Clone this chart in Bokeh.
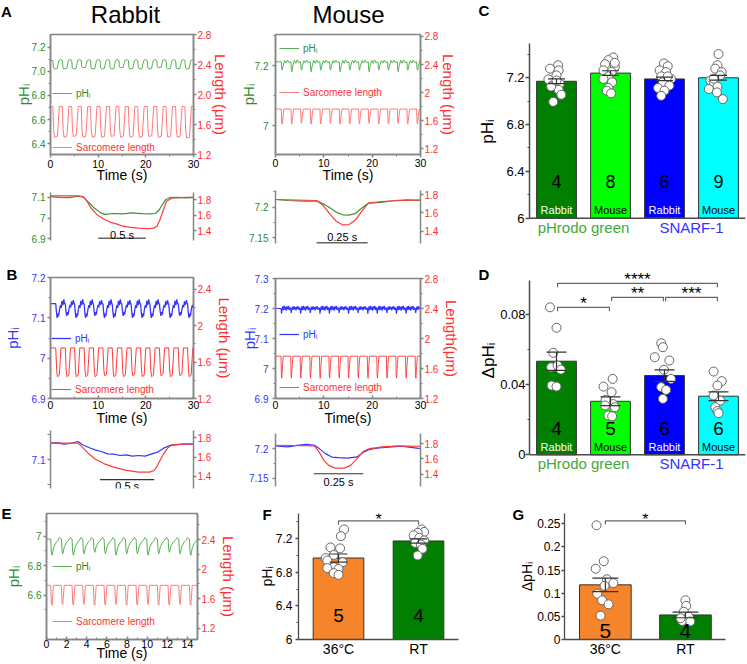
import math
from bokeh.plotting import figure
from bokeh.models import (Range1d, LinearAxis, FixedTicker, Legend, LegendItem, Title, Span,
                          ColumnDataSource, Whisker, TeeHead)
from bokeh.layouts import row, column
from bokeh.embed import file_html
from bokeh.resources import INLINE
from bokeh.core.properties import value

FONT = "Liberation Sans"

# ====================== DATA ======================
# --- A, rabbit (pHrodo green), 30 s record: beat onsets, per-beat minima, one-beat shape
ra_beats = [0.5, 2.5, 4.45, 6.45, 8.4, 10.4, 12.4, 14.35, 16.35, 18.3, 20.3, 22.3, 24.25, 26.25, 28.2]
ra_ph_rest = 7.09
ra_ph_min = [7.02, 7.02, 7.02, 7.03, 7.02, 7.02, 7.02, 7.03, 7.02, 7.02, 7.02, 7.03, 7.02, 7.02, 7.02]
ra_ph_offs = [0, 0.12, 0.3, 0.9, 1.1, 1.25, 1.6]
ra_ph_shape = [0, 0.9, 1.0, 0.95, 0.4, 0, -0.1]
ra_len_rest = 1.84
ra_len_min = [1.43, 1.43, 1.44, 1.43, 1.43, 1.43, 1.44, 1.43, 1.43, 1.43, 1.44, 1.43, 1.43, 1.43, 1.42]
ra_len_offs = [0, 0.15, 0.35, 0.95, 1.15, 1.35]
ra_len_shape = [0, 0.75, 1.0, 0.97, 0.5, 0]
# --- A, rabbit averaged transient
ra_avg_t_ph = [0, 0.099, 0.197, 0.296, 0.345, 0.401, 0.46, 0.526, 0.576, 0.658, 0.757, 0.855, 0.954, 1.053,
               1.102, 1.141, 1.174, 1.207, 1.25, 1.332, 1.414, 1.5]
ra_avg_ph = [7.103, 7.100, 7.098, 7.105, 7.100, 7.075, 7.048, 7.025, 7.018, 7.022, 7.020, 7.025, 7.021, 7.020,
             7.022, 7.040, 7.065, 7.088, 7.098, 7.100, 7.097, 7.098]
ra_avg_t_len = [0, 0.296, 0.345, 0.378, 0.421, 0.493, 0.559, 0.625, 0.707, 0.757, 0.839, 0.921, 1.036, 1.085,
                1.118, 1.151, 1.184, 1.217, 1.283, 1.5]
ra_avg_len = [1.85, 1.85, 1.84, 1.79, 1.70, 1.60, 1.55, 1.51, 1.48, 1.456, 1.44, 1.43, 1.425, 1.43,
              1.46, 1.55, 1.67, 1.78, 1.826, 1.835]

# --- A, mouse (pHrodo green)
ma_beats = [1.2, 3.2, 5.2, 7.2, 9.2, 11.2, 13.2, 15.2, 17.2, 19.2, 21.2, 23.2, 25.2, 27.2, 29.2]
ma_ph_rest = 7.213
ma_ph_min = [7.185, 7.18, 7.185, 7.18, 7.185, 7.185, 7.18, 7.185, 7.185, 7.18, 7.185, 7.185, 7.18, 7.185, 7.185]
ma_ph_offs = [0, 0.08, 0.18, 0.4, 0.7, 1.0, 1.3, 1.6]
ma_ph_shape = [0, 0.8, 1.0, 0.4, -0.15, 0.15, -0.2, 0.1]
ma_len_rest = 1.765
ma_len_min = [1.55, 1.55, 1.56, 1.55, 1.55, 1.56, 1.55, 1.55, 1.55, 1.56, 1.55, 1.55, 1.56, 1.55, 1.55]
ma_len_offs = [0, 0.08, 0.18, 0.35, 0.55]
ma_len_shape = [0, 0.85, 1.0, 0.5, 0]
ma_avg_t_ph = [0, 0.059, 0.138, 0.202, 0.234, 0.266, 0.297, 0.329, 0.361, 0.393, 0.425, 0.456, 0.52, 0.584,
               0.647, 0.708]
ma_avg_ph = [7.2126, 7.211, 7.210, 7.210, 7.2055, 7.199, 7.192, 7.1876, 7.187, 7.190, 7.199, 7.2065, 7.208,
             7.211, 7.212, 7.211]
ma_avg_t_len = [0, 0.202, 0.234, 0.266, 0.297, 0.329, 0.361, 0.393, 0.425, 0.456, 0.52, 0.616, 0.708]
ma_avg_len = [1.748, 1.737, 1.682, 1.591, 1.51, 1.47, 1.473, 1.525, 1.627, 1.708, 1.726, 1.737, 1.745]

# --- B, rabbit (SNARF-1)
rb_beats = [1.1, 3.1, 5.05, 7.05, 9.0, 11.0, 12.95, 14.95, 16.9, 18.9, 20.85, 22.85, 24.8, 26.8, 28.75]
rb_ph_rest = 7.135
rb_ph_min = [7.10, 7.105, 7.10, 7.10, 7.105, 7.10, 7.10, 7.105, 7.10, 7.10, 7.10, 7.105, 7.10, 7.105, 7.10]
rb_ph_offs = [0, 0.15, 0.3, 0.45, 0.6, 0.8, 1.0, 1.15, 1.3, 1.5, 1.7, 1.85]
rb_ph_shape = [0, 0.6, 1.0, 0.7, 0.9, 0.4, 0.1, 0.3, -0.2, 0.1, -0.3, 0.0]
rb_len_rest = 1.756
rb_len_min = [1.44, 1.44, 1.44, 1.44, 1.44, 1.45, 1.44, 1.44, 1.45, 1.44, 1.44, 1.45, 1.44, 1.45, 1.44]
rb_len_offs = [0, 0.2, 0.35, 0.75, 0.95, 1.1]
rb_len_shape = [0, 0.8, 1.0, 0.95, 0.4, 0]
rb_avg_t_ph = [0, 0.066, 0.124, 0.181, 0.253, 0.296, 0.353, 0.411, 0.468, 0.526, 0.583, 0.641, 0.698, 0.756,
               0.813, 0.871, 0.928, 0.986, 1.043, 1.101, 1.158, 1.216, 1.319]
rb_avg_ph = [7.1321, 7.1328, 7.1302, 7.1315, 7.1354, 7.1289, 7.1236, 7.119, 7.1157, 7.1111, 7.1105, 7.1079,
             7.1092, 7.1066, 7.1079, 7.1066, 7.1105, 7.1144, 7.1223, 7.1276, 7.1289, 7.1302, 7.1302]
rb_avg_t_len = [0, 0.253, 0.296, 0.353, 0.411, 0.497, 0.583, 0.698, 0.813, 0.914, 0.957, 0.986, 1.043, 1.086,
                1.129, 1.319]
rb_avg_len = [1.744, 1.744, 1.70, 1.633, 1.58, 1.529, 1.494, 1.46, 1.442, 1.442, 1.46, 1.511, 1.633, 1.70,
              1.73, 1.737]

# --- B, mouse (SNARF-1)
mb_beats = [1.15, 3.15, 5.1, 7.1, 9.1, 11.05, 13.05, 15.0, 17.0, 19.0, 20.95, 22.95, 24.9, 26.9, 28.9]
mb_ph_rest = 7.20
mb_ph_min = [7.183, 7.185, 7.183, 7.185, 7.183, 7.183, 7.185, 7.183, 7.185, 7.183, 7.183, 7.185, 7.183, 7.183, 7.185]
mb_ph_offs = [0, 0.1, 0.2, 0.35, 0.5, 0.65, 0.8, 0.95, 1.1, 1.25, 1.4, 1.55, 1.7, 1.85]
mb_ph_shape = [0, 1.0, 0.3, -0.4, 0.3, -0.5, 0.2, -0.3, 0.4, -0.4, 0.1, -0.5, 0.3, -0.2]
mb_len_rest = 1.765
mb_len_min = [1.47, 1.47, 1.47, 1.47, 1.47, 1.47, 1.47, 1.47, 1.47, 1.47, 1.47, 1.47, 1.47, 1.47, 1.47]
mb_len_offs = [0, 0.06, 0.15, 0.3, 0.45]
mb_len_shape = [0, 0.8, 1.0, 0.45, 0]
mb_avg_t_ph = [0, 0.061, 0.108, 0.156, 0.196, 0.22, 0.252, 0.284, 0.315, 0.363, 0.411, 0.443, 0.475, 0.522,
               0.586, 0.634, 0.682, 0.733]
mb_avg_ph = [7.2044, 7.203, 7.2056, 7.207, 7.2056, 7.2, 7.1915, 7.1857, 7.1846, 7.184, 7.186, 7.194, 7.1985,
             7.201, 7.203, 7.204, 7.202, 7.2]
mb_avg_t_len = [0, 0.196, 0.22, 0.244, 0.268, 0.3, 0.347, 0.379, 0.411, 0.443, 0.475, 0.538, 0.618, 0.733]
mb_avg_len = [1.778, 1.769, 1.69, 1.582, 1.517, 1.482, 1.482, 1.517, 1.605, 1.70, 1.735, 1.756, 1.769, 1.765]

# --- E, rabbit at 36 C, 15 s record
e_beats = [0.42, 1.48, 2.54, 3.6, 4.66, 5.72, 6.78, 7.84, 8.9, 9.96, 11.02, 12.08, 13.14, 14.2]
e_ph_rest = 6.98
e_ph_min = [6.87, 6.88, 6.87, 6.88, 6.89, 6.88, 6.87, 6.88, 6.88, 6.87, 6.88, 6.89, 6.88, 6.87]
e_ph_offs = [0, 0.06, 0.14, 0.3, 0.5, 0.7, 0.9]
e_ph_shape = [0, 0.8, 1.0, 0.5, 0.25, 0.1, -0.1]
e_len_rest = 1.78
e_len_min = [1.51, 1.52, 1.51, 1.52, 1.51, 1.51, 1.52, 1.51, 1.51, 1.52, 1.51, 1.51, 1.52, 1.51]
e_len_offs = [0, 0.06, 0.14, 0.28]
e_len_shape = [0, 0.9, 1.0, 0]

# --- C: resting pHi
c_x = [1, 2, 3, 4]
c_mean = [7.17, 7.24, 7.19, 7.20]
c_sem = [0.02, 0.02, 0.015, 0.02]
c_n = ["4", "8", "6", "9"]
c_species = ["Rabbit", "Mouse", "Rabbit", "Mouse"]
c_colors = ["#007F00", "#00FF00", "#0000FF", "#00FFFF"]
c_pts = [[7.307, 7.278, 7.264, 7.186, 7.22, 7.133, 7.148, 7.096, 7.055, 6.994, 7.125, 7.177],
         [7.374, 7.351, 7.316, 7.293, 7.264, 7.249, 7.212, 7.191, 7.162, 7.113, 7.09, 7.067, 7.328],
         [7.322, 7.299, 7.264, 7.249, 7.212, 7.191, 7.162, 7.133, 7.113, 7.09, 7.046, 7.212],
         [7.403, 7.307, 7.278, 7.249, 7.177, 7.22, 7.162, 7.125, 7.104, 7.075, 7.017, 7.191]]
c_jit = [[0.03, -0.12, 0.04, -0.15, 0, -0.08, 0.06, 0.04, 0.09, -0.06, -0.1, 0],
         [0.05, -0.04, -0.1, 0.08, -0.13, 0.02, -0.04, -0.13, 0.03, -0.04, -0.07, 0.01, 0.08],
         [-0.01, 0.06, -0.09, 0.03, -0.06, 0.12, -0.03, 0.09, -0.12, 0, -0.06, 0.06],
         [0, -0.02, -0.06, 0.06, -0.15, 0.03, -0.09, -0.02, -0.18, -0.03, 0.08, -0.09]]
dye_x = [1.5, 3.5]
dyes = ["pHrodo green", "SNARF-1"]

# --- D: delta pHi
d_mean = [0.0535, 0.0306, 0.0453, 0.0335]
d_sem = [0.0052, 0.0025, 0.0033, 0.0025]
d_n = ["4", "5", "6", "6"]
d_pts = [[0.0843, 0.0726, 0.0583, 0.050, 0.051, 0.0487, 0.0396, 0.039],
         [0.0434, 0.039, 0.0358, 0.0314, 0.029, 0.0282, 0.0272, 0.0225, 0.022],
         [0.0638, 0.0615, 0.0558, 0.0539, 0.0486, 0.0434, 0.0387, 0.0371, 0.032],
         [0.0476, 0.0421, 0.0396, 0.0339, 0.031, 0.0272, 0.025, 0.0238]]
d_jit = [[-0.12, 0, -0.06, -0.1, 0.02, 0.08, -0.09, 0],
         [0.04, -0.13, 0.02, -0.09, 0.05, -0.1, 0.08, -0.04, 0.03],
         [-0.06, -0.03, -0.18, 0.09, -0.01, 0.12, -0.06, 0.03, -0.03],
         [-0.09, 0.06, -0.02, -0.09, 0.03, -0.06, -0.02, 0]]
d_sig = [(1, 2, "*", 0.0843), (2, 3, "**", 0.0900), (3, 4, "***", 0.0900), (1, 4, "****", 0.0980)]

# --- F / G: 36 C vs RT
fg_x = [1, 2]
fg_cats = ["36°C", "RT"]
fg_colors = ["#F5842A", "#007F00"]
fg_n = ["5", "4"]
f_mean = [6.97, 7.173]
f_sem = [0.048, 0.025]
f_pts = [[7.31, 7.23, 7.096, 7.085, 7.006, 6.97, 6.94, 6.92, 6.86, 6.85, 6.84, 6.79, 6.77],
         [7.31, 7.28, 7.27, 7.24, 7.21, 7.18, 7.15, 7.13, 7.08, 7.0]]
f_jit = [[0.07, 0.03, -0.1, 0.02, -0.06, -0.16, -0.14, 0.05, -0.06, -0.14, 0, -0.06, 0],
         [0.04, 0.07, -0.01, -0.06, 0.01, 0.07, -0.04, 0.03, 0.05, -0.01]]
f_sig = (1, 2, "*", 7.412)
g_mean = [0.118, 0.053]
g_sem = [0.0145, 0.006]
g_pts = [[0.2465, 0.169, 0.1528, 0.130, 0.1217, 0.1158, 0.0985, 0.0845, 0.0759, 0.0514],
         [0.0845, 0.0727, 0.0599, 0.0493, 0.0401, 0.0388, 0.046]]
g_jit = [[-0.11, -0.02, -0.12, 0.02, 0.1, -0.01, -0.1, -0.04, 0.04, -0.06],
         [0, 0.01, -0.02, 0.04, -0.04, 0.06, -0.06]]
g_sig = (1, 2, "*", 0.2562)

# header / side texts
hdr_species = ["Rabbit", "Mouse"]

# ====================== STYLE ======================
AXG = "#858585"
AXD = "#4a4a4a"
GREEN_T = "#2E8B2E"
RED_T = "#FF2F2F"
BLUE_T = "#3333FF"
GREEN_L = "#55B055"
PINK_L = "#FF7A7A"
RED_L = "#FF3A3A"
BLUE_L = "#3535FF"
GREEN_AVG = "#3A953A"
DYE_COLORS = ["#3DAA3D", BLUE_T]


def tile(beats, offs, shape, rest, mins, t_end):
    t, v = [0.0], [rest]
    for b, m in zip(beats, mins):
        for o, s in zip(offs, shape):
            if 0 <= b + o < t_end:
                t.append(b + o)
                v.append(rest + (m - rest) * s)
    t.append(t_end)
    v.append(rest)
    return t, v


class Strip:
    """A text-only figure whose frame fills its canvas; positions given in page pixels."""

    def __init__(self, ox, oy, w, h):
        self.ox, self.oy, self.h = ox, oy, h
        self.p = figure(width=w, height=h, x_range=Range1d(ox, ox + w), y_range=Range1d(0, h),
                        x_axis_type=None, y_axis_type=None, output_backend="svg", toolbar_location=None,
                        title_location=None, min_border_left=0, min_border_right=0, min_border_top=0,
                        min_border_bottom=0)
        self.p.outline_line_color = None

    def put(self, xs, ys, texts, size, bold=False, angle=0.0, color="black"):
        self.p.text(x=xs, y=[self.oy + self.h - Y for Y in ys], text=texts, text_font=value(FONT),
                    text_font_size=value(size), text_font_style="bold" if bold else "normal",
                    text_align="center", text_baseline="middle", text_color=color, angle=angle)


class Panel:
    def __init__(self, ox, oy, w, h, L, T, R, B, xr, yr, yr2=None, box=False):
        self.L, self.T, self.R, self.B = L, T, R, B
        self.xr, self.yr = xr, yr
        self.p = figure(width=w, height=h, x_range=Range1d(*xr), y_range=Range1d(*yr),
                        x_axis_type=None, y_axis_type=None, output_backend="svg",
                        toolbar_location=None, title_location=None,
                        min_border_left=int(L - ox), min_border_right=int(ox + w - R),
                        min_border_top=int(T - oy), min_border_bottom=int(oy + h - B))
        if box:
            self.p.outline_line_color = AXG
            self.p.outline_line_width = 1.5
        else:
            self.p.outline_line_color = None
        if yr2 is not None:
            self.p.extra_y_ranges = {"r": Range1d(*yr2)}

    def ax(self, side, ticks, labels=None, minor=(), color="black", size="10px", line=AXG, lw=1.5,
           tout=3, tin=0, standoff=2, rname=None, title=None, tsize="15px", tcolor=None, tstand=0,
           bounds=None, mlen=2):
        a = LinearAxis(ticker=FixedTicker(ticks=[float(t) for t in ticks],
                                          minor_ticks=[float(t) for t in minor]))
        if rname:
            a.y_range_name = rname
        if bounds is not None:
            a.bounds = bounds
        a.axis_line_color = line
        a.axis_line_width = lw
        a.major_tick_line_color = line
        a.major_tick_line_width = lw
        a.minor_tick_line_color = line
        a.minor_tick_line_width = 1
        a.major_tick_out = tout
        a.major_tick_in = tin
        a.minor_tick_out = mlen if tout else 0
        a.minor_tick_in = 0 if tout else mlen
        a.major_label_text_font = FONT
        a.major_label_text_font_size = size
        a.major_label_text_color = color
        a.major_label_standoff = standoff
        if labels is not None:
            a.major_label_overrides = {float(t): s for t, s in zip(ticks, labels)}
        if title is not None:
            a.axis_label = title
            a.axis_label_text_font = FONT
            a.axis_label_text_font_size = tsize
            a.axis_label_text_font_style = "normal"
            a.axis_label_text_color = tcolor or color
            a.axis_label_standoff = tstand
        self.p.add_layout(a, side)
        return a

    def leg(self, r, text, gx, cy, color):
        lg = Legend(items=[LegendItem(label=text, renderers=[r])],
                    location=(gx - self.L, self.B - cy - 6), glyph_width=20, glyph_height=12,
                    label_height=12, label_standoff=4, padding=0, margin=0, spacing=0,
                    border_line_color=None, background_fill_alpha=0, label_text_font=FONT,
                    label_text_font_size="10px", label_text_color=color)
        self.p.add_layout(lg)

    def letter(self, text, Xleft, standoff):
        self.p.add_layout(Title(text=text, align="left", offset=Xleft - self.L, standoff=standoff,
                                vertical_align="bottom", text_font=FONT, text_font_size="15px",
                                text_font_style="bold", text_color="black"), "above")


def trace_axes(P, xt, xminor, lt, ll, lminor, lcol, rt, rl, rminor, lstand, btout, bstand,
               ltitle_st, rtitle, rtitle_st, xtitle, xtitle_st):
    P.ax("left", lt, ll, lminor, color=lcol, standoff=lstand, title="pHᵢ", tstand=ltitle_st)
    P.ax("right", rt, rl, rminor, color=RED_T, rname="r", standoff=1, title=rtitle, tstand=rtitle_st)
    P.ax("below", xt, [str(int(t)) for t in xt], xminor, color="black", size="10.5px", standoff=bstand,
         tout=btout, tin=0 if btout else 3, title=xtitle, tsize="14px", tstand=xtitle_st)


# ====================== HEADER STRIP (A / Rabbit / Mouse) ======================
hdr = Strip(0, 0, 476, 26)
hdr.put([125, 348], [13.5, 13.5], hdr_species, "24px")
hdr.put([6], [11], ["A"], "15px", bold=True)

# ====================== PANEL A ======================
fa1 = Panel(0, 26, 236, 159, 48, 34, 198, 155, (0, 30), (6.31, 7.305), (1.2, 2.8), box=True)
trace_axes(fa1, [0, 10, 20, 30], [5, 15, 25], [6.4, 6.6, 6.8, 7.0, 7.2], ["6.4", "6.6", "6.8", "7.0", "7.2"],
           [6.5, 6.7, 6.9, 7.1], GREEN_T, [1.2, 1.6, 2.0, 2.4, 2.8], ["1.2", "1.6", "2.0", "2.4", "2.8"],
           [1.4, 1.8, 2.2, 2.6], lstand=2, btout=3, bstand=2, ltitle_st=-3,
           rtitle="Length (μm)", rtitle_st=-2, xtitle="Time (s)", xtitle_st=-4)
t, v = tile(ra_beats, ra_ph_offs, ra_ph_shape, ra_ph_rest, ra_ph_min, 30)
r1 = fa1.p.line(t, v, line_color=GREEN_L, line_width=1)
t, v = tile(ra_beats, ra_len_offs, ra_len_shape, ra_len_rest, ra_len_min, 30)
r2 = fa1.p.line(t, v, line_color=PINK_L, line_width=1, y_range_name="r")
fa1.leg(r1, "pHᵢ", 50, 94, GREEN_T)
fa1.leg(r2, "Sarcomere length", 50, 148, RED_T)

fa2 = Panel(0, 185, 236, 65, 47, 192, 199, 240, (0, 1.5), (6.892, 7.123), (1.27, 1.895))
fa2.ax("left", [6.9, 7.0, 7.1], ["6.9", "7", "7.1"], color=GREEN_T)
fa2.ax("right", [1.4, 1.6, 1.8], ["1.4", "1.6", "1.8"], color=RED_T, rname="r", standoff=1)
fa2.p.line(ra_avg_t_ph, ra_avg_ph, line_color=GREEN_AVG, line_width=1.2)
fa2.p.line(ra_avg_t_len, ra_avg_len, line_color=RED_L, line_width=1.2, y_range_name="r")
ra_bar_t = [0.5, 1.0]
ra_bar_y = 6.903
fa2.p.line(ra_bar_t, [ra_bar_y] * 2, line_color="#666666", line_width=1.5)
fa2.p.text(x=[sum(ra_bar_t) / 2], y=[6.917], text=["0.5 s"], text_font=value(FONT),
           text_font_size=value("11px"), text_align="center", text_baseline="middle", text_color="black")

# ====================== PANEL B ======================
fb1 = Panel(0, 250, 236, 178, 47, 277, 198, 400, (0, 30), (6.9, 7.2), (1.2, 2.53), box=True)
trace_axes(fb1, [0, 10, 20, 30], [5, 15, 25], [6.9, 7.0, 7.1, 7.2], ["6.9", "7", "7.1", "7.2"],
           [6.95, 7.05, 7.15], BLUE_T, [1.2, 1.6, 2.0, 2.4], ["1.2", "1.6", "2", "2.4"], [1.4, 1.8, 2.2],
           lstand=2, btout=0, bstand=2, ltitle_st=8, rtitle="Length (μm)", rtitle_st=2,
           xtitle="Time (s)", xtitle_st=-2)
t, v = tile(rb_beats, rb_ph_offs, rb_ph_shape, rb_ph_rest, rb_ph_min, 30)
r1 = fb1.p.line(t, v, line_color=BLUE_L, line_width=1.3)
t, v = tile(rb_beats, rb_len_offs, rb_len_shape, rb_len_rest, rb_len_min, 30)
r2 = fb1.p.line(t, v, line_color=RED_L, line_width=1, y_range_name="r")
fb1.leg(r1, "pHᵢ", 48, 340, BLUE_T)
fb1.leg(r2, "Sarcomere length", 48, 391, RED_T)
fb1.letter("B", 3, -10)

fb2 = Panel(0, 428, 236, 67, 47, 430, 199, 488, (0, 1.319), (7.043, 7.157), (1.272, 1.876))
fb2.ax("left", [7.1], ["7.1"], minor=[7.05, 7.15], color=BLUE_T, mlen=3)
fb2.ax("right", [1.4, 1.6, 1.8], ["1.4", "1.6", "1.8"], color=RED_T, rname="r", standoff=1)
fb2.p.line(rb_avg_t_ph, rb_avg_ph, line_color=BLUE_L, line_width=1.2)
fb2.p.line(rb_avg_t_len, rb_avg_len, line_color=RED_L, line_width=1.2, y_range_name="r")
rb_bar_t = [0.457, 0.957]
rb_bar_y = 7.0606
fb2.p.line(rb_bar_t, [rb_bar_y] * 2, line_color="#333333", line_width=1.2)
fb2.p.text(x=[sum(rb_bar_t) / 2], y=[7.048], text=["0.5 s"], text_font=value(FONT),
           text_font_size=value("11px"), text_align="center", text_baseline="middle", text_color="black")

# ====================== MOUSE COLUMN ======================
ma1 = Panel(236, 26, 240, 159, 271, 34, 422, 156, (0, 30), (6.904, 7.304), (1.116, 2.828), box=True)
trace_axes(ma1, [0, 10, 20, 30], [5, 15, 25], [7.0, 7.2], ["7", "7.2"], [6.9, 7.1, 7.3], GREEN_T,
           [1.2, 1.6, 2.0, 2.4, 2.8], ["1.2", "1.6", "2", "2.4", "2.8"], [1.4, 1.8, 2.2, 2.6],
           lstand=4, btout=3, bstand=1, ltitle_st=-5, rtitle="Length (μm)", rtitle_st=-1,
           xtitle="Time (s)", xtitle_st=-3)
t, v = tile(ma_beats, ma_ph_offs, ma_ph_shape, ma_ph_rest, ma_ph_min, 30)
r1 = ma1.p.line(t, v, line_color=GREEN_L, line_width=1)
t, v = tile(ma_beats, ma_len_offs, ma_len_shape, ma_len_rest, ma_len_min, 30)
r2 = ma1.p.line(t, v, line_color=PINK_L, line_width=1, y_range_name="r")
ma1.leg(r1, "pHᵢ", 275, 50, GREEN_T)
ma1.leg(r2, "Sarcomere length", 275, 94, RED_T)

ma2 = Panel(236, 185, 240, 65, 271, 190, 420, 243, (0, 0.711), (7.1407, 7.2273), (1.265, 1.847))
ma2.ax("left", [7.15, 7.2], ["7.15", "7.2"], minor=[7.175, 7.225], color=GREEN_T, standoff=4)
ma2.ax("right", [1.4, 1.6, 1.8], ["1.4", "1.6", "1.8"], color=RED_T, rname="r", standoff=1)
ma2.p.line(ma_avg_t_ph, ma_avg_ph, line_color=GREEN_AVG, line_width=1.2)
ma2.p.line(ma_avg_t_len, ma_avg_len, line_color=RED_L, line_width=1.2, y_range_name="r")
ma_bar_t = [0.2018, 0.4518]
ma_bar_y = 7.1415
ma2.p.line(ma_bar_t, [ma_bar_y] * 2, line_color="#333333", line_width=1.5)
ma2.p.text(x=[sum(ma_bar_t) / 2], y=[7.151], text=["0.25 s"], text_font=value(FONT),
           text_font_size=value("11px"), text_align="center", text_baseline="middle", text_color="black")

mb1 = Panel(236, 250, 240, 178, 271, 278, 422, 400, (0, 30), (6.9, 7.3), (1.2, 2.8), box=True)
trace_axes(mb1, [0, 10, 20, 30], [5, 15, 25], [6.9, 7.0, 7.1, 7.2, 7.3], ["6.9", "7", "7.1", "7.2", "7.3"],
           [6.95, 7.05, 7.15, 7.25], BLUE_T, [1.2, 1.6, 2.0, 2.4, 2.8], ["1.2", "1.6", "2", "2.4", "2.8"],
           [1.4, 1.8, 2.2, 2.6], lstand=4, btout=0, bstand=2, ltitle_st=-6, rtitle="Length(μm)",
           rtitle_st=2, xtitle="Time(s)", xtitle_st=-2)
t, v = tile(mb_beats, mb_ph_offs, mb_ph_shape, mb_ph_rest, mb_ph_min, 30)
r1 = mb1.p.line(t, v, line_color=BLUE_L, line_width=1.2)
t, v = tile(mb_beats, mb_len_offs, mb_len_shape, mb_len_rest, mb_len_min, 30)
r2 = mb1.p.line(t, v, line_color=RED_L, line_width=0.9, y_range_name="r")
mb1.leg(r1, "pHᵢ", 275, 336, BLUE_T)
mb1.leg(r2, "Sarcomere length", 275, 389, RED_T)

mb2 = Panel(236, 428, 240, 67, 271, 433, 424, 486, (0, 0.731), (7.136, 7.2255), (1.244, 1.93))
mb2.ax("left", [7.15, 7.2], ["7.15", "7.2"], minor=[7.175], color=BLUE_T, standoff=4)
mb2.ax("right", [1.4, 1.6, 1.8], ["1.4", "1.6", "1.8"], color=RED_T, rname="r", standoff=1)
mb2.p.line(mb_avg_t_ph, mb_avg_ph, line_color=BLUE_L, line_width=1.2)
mb2.p.line(mb_avg_t_len, mb_avg_len, line_color=RED_L, line_width=1.2, y_range_name="r")
mb_bar_t = [0.1927, 0.4427]
mb_bar_y = 7.1575
mb2.p.line(mb_bar_t, [mb_bar_y] * 2, line_color="#333333", line_width=1.2)
mb2.p.text(x=[sum(mb_bar_t) / 2], y=[7.143], text=["0.25 s"], text_font=value(FONT),
           text_font_size=value("11px"), text_align="center", text_baseline="middle", text_color="black")


# ====================== BAR CHARTS ======================
def bar_panel(P, xs, means, sems, colors, width, base, pts, jit, cap):
    src = ColumnDataSource(dict(x=xs, top=means, color=colors,
                                hi=[m + s for m, s in zip(means, sems)],
                                lo=[m - s for m, s in zip(means, sems)]))
    P.p.vbar(x="x", top="top", bottom=base, width=width, fill_color="color", line_color="#333333",
             line_width=1, source=src)
    px, py = [], []
    for x0, vals, js in zip(xs, pts, jit):
        for vv, jj in zip(vals, js):
            px.append(x0 + jj)
            py.append(vv)
    P.p.scatter(px, py, size=9, fill_color="white", line_color="#666666", line_width=1)
    P.p.add_layout(Whisker(source=src, base="x", upper="hi", lower="lo", line_color="#333333",
                           line_width=1.2, level="overlay",
                           upper_head=TeeHead(size=cap, line_color="#333333", line_width=1.2),
                           lower_head=TeeHead(size=cap, line_color="#333333", line_width=1.2)))


def bracket(P, x1, x2, y, drop, star, ystar, size):
    P.p.multi_line(xs=[[x1, x1, x2, x2]], ys=[[y - drop, y, y, y - drop]], line_color="#666666",
                   line_width=1.2)
    P.p.text(x=[(x1 + x2) / 2], y=[ystar], text=[star], text_font=value(FONT),
             text_font_size=value(f"{size}px"), text_align="center", text_baseline="middle",
             text_color="black")


# --- side strip for C / D (panel letters and y-axis titles)
side = Strip(476, 0, 21, 495)
side.put([483.5, 483.5], [10, 273.5], ["C", "D"], "15px", bold=True)
side.put([486.5, 487.5], [131, 360], ["pHᵢ", "ΔpHᵢ"], "17px", angle=math.pi / 2)

# --- C
fc = Panel(497, 0, 250, 250, 528, 43, 745, 236, (0.5, 4.5), (5.843, 7.493))
fc.ax("left", [6.0, 6.4, 6.8, 7.2], ["6", "6.4", "6.8", "7.2"], minor=[6.2, 6.6, 7.0, 7.4], color="black",
      size="13px", line=AXD, lw=1.5, tout=4, standoff=1, bounds=(6.0, 7.5))
fc.p.add_layout(Span(location=6.0, dimension="width", line_color=AXD, line_width=1.5))
bar_panel(fc, c_x, c_mean, c_sem, c_colors, 0.737, 6.0, c_pts, c_jit, 17)
fc.p.text(x=c_x, y=[6.316] * 4, text=c_n, text_font=value(FONT), text_font_size=value("18px"),
          text_align="center", text_baseline="middle", text_color="black")
fc.p.text(x=c_x, y=[6.066] * 4, text=c_species, text_font=value(FONT), text_font_size=value("11px"),
          text_align="center", text_baseline="middle",
          text_color=["white", "black", "white", "black"])
fc.p.text(x=dye_x, y=[5.923] * 2, text=dyes, text_font=value(FONT), text_font_size=value("15px"),
          text_align="center", text_baseline="middle", text_color=DYE_COLORS)

# --- D
fd = Panel(497, 250, 250, 245, 528, 272, 745, 472, (0.5, 4.5), (-0.0101, 0.1042))
fd.ax("left", [0, 0.04, 0.08], ["0", "0.04", "0.08"], minor=[0.02, 0.06], color="black", size="13px",
      line=AXD, lw=1.5, tout=4, standoff=0, bounds=(0.0, 0.0995))
fd.p.add_layout(Span(location=0.0, dimension="width", line_color=AXD, line_width=1.5))
bar_panel(fd, c_x, d_mean, d_sem, c_colors, 0.737, 0.0, d_pts, d_jit, 20)
fd.p.text(x=c_x, y=[0.0148] * 4, text=d_n, text_font=value(FONT), text_font_size=value("19px"),
          text_align="center", text_baseline="middle", text_color="black")
fd.p.text(x=c_x, y=[0.0043] * 4, text=c_species, text_font=value(FONT), text_font_size=value("11px"),
          text_align="center", text_baseline="middle",
          text_color=["white", "black", "white", "black"])
fd.p.text(x=dye_x, y=[-0.0048] * 2, text=dyes, text_font=value(FONT), text_font_size=value("15px"),
          text_align="center", text_baseline="middle", text_color=DYE_COLORS)
for (a, b, s, yv) in d_sig:
    bracket(fd, a + 0.02, b - 0.02, yv, 0.0022, s, yv + 0.0022, 17)

# ====================== PANEL E ======================
fe = Panel(0, 495, 240, 169, 46, 510, 199, 639, (0, 15), (6.30, 7.153), (1.045, 2.754), box=True)
fe.ax("left", [6.6, 6.8, 7.0], ["6.6", "6.8", "7"], [6.5, 6.7, 6.9, 7.1], color=GREEN_T,
      title="pHᵢ", tstand=3)
fe.ax("right", [1.2, 1.6, 2.0, 2.4], ["1.2", "1.6", "2", "2.4"], [1.4, 1.8, 2.2, 2.6], color=RED_T,
      rname="r", standoff=1, title="Length (μm)", tstand=2)
fe.ax("below", list(range(0, 15, 2)), [str(t) for t in range(0, 15, 2)], [1, 3, 5, 7, 9, 11, 13],
      color="black", size="10.5px", tout=0, tin=3, standoff=0, title="Time (s)", tsize="14px", tstand=-6)
t, v = tile(e_beats, e_ph_offs, e_ph_shape, e_ph_rest, e_ph_min, 15)
r1 = fe.p.line(t, v, line_color=GREEN_L, line_width=1)
t, v = tile(e_beats, e_len_offs, e_len_shape, e_len_rest, e_len_min, 15)
r2 = fe.p.line(t, v, line_color=PINK_L, line_width=1, y_range_name="r")
fe.leg(r1, "pHᵢ", 52, 566, GREEN_T)
fe.leg(r2, "Sarcomere length", 52, 621, RED_T)
fe.letter("E", 1, -16)

# ====================== PANEL F ======================
ff = Panel(240, 495, 236, 169, 298, 513, 458, 642, (0.5, 2.5), (6.0, 7.5))
ff.ax("left", [6.0, 6.4, 6.8, 7.2], ["6", "6.4", "6.8", "7.2"], minor=[6.2, 6.6, 7.0, 7.4], color="black",
      size="12px", line=AXD, lw=1.3, tout=3, standoff=3, title="pHᵢ", tsize="14px", tstand=-2)
ff.ax("below", fg_x, fg_cats, color="black", size="14px", line=AXD, lw=1.3, tout=0, standoff=1)
bar_panel(ff, fg_x, f_mean, f_sem, fg_colors, 0.633, 6.0, f_pts, f_jit, 18)
ff.p.text(x=fg_x, y=[6.28] * 2, text=fg_n, text_font=value(FONT), text_font_size=value("19px"),
          text_align="center", text_baseline="middle", text_color="black")
bracket(ff, f_sig[0], f_sig[1], f_sig[3], 0.045, f_sig[2], 7.4245, 16)
ff.letter("F", 262, -18)

# ====================== PANEL G ======================
fg = Panel(476, 495, 271, 169, 564, 513, 725, 642, (0.49, 2.5), (0.0, 0.272))
fg.ax("left", [0, 0.05, 0.1, 0.15, 0.2, 0.25], ["0", "0.05", "0.1", "0.15", "0.2", "0.25"], color="black",
      size="12px", line=AXD, lw=1.3, tout=3, standoff=1, title="ΔpHᵢ", tsize="14px", tstand=-1)
fg.ax("below", fg_x, fg_cats, color="black", size="14px", line=AXD, lw=1.3, tout=0, standoff=1)
bar_panel(fg, fg_x, g_mean, g_sem, fg_colors, 0.645, 0.0, g_pts, g_jit, 26)
fg.p.text(x=fg_x, y=[0.019] * 2, text=fg_n, text_font=value(FONT), text_font_size=value("21px"),
          text_align="center", text_baseline="middle", text_color="black")
bracket(fg, g_sig[0], g_sig[1], g_sig[3], 0.008, g_sig[2], 0.2584, 16)
fg.letter("G", 512, -18)

# ====================== LAYOUT ======================
col1 = column(fa1.p, fa2.p, fb1.p, fb2.p, spacing=0)
col2 = column(ma1.p, ma2.p, mb1.p, mb2.p, spacing=0)
left_block = column(hdr.p, row(col1, col2, spacing=0), spacing=0)
col3 = column(fc.p, fd.p, spacing=0)
top = row(left_block, side.p, col3, spacing=0)
bottom = row(fe.p, ff.p, fg.p, spacing=0)
root = column(top, bottom, spacing=0)

open("out.html", "w").write(file_html(root, INLINE))
